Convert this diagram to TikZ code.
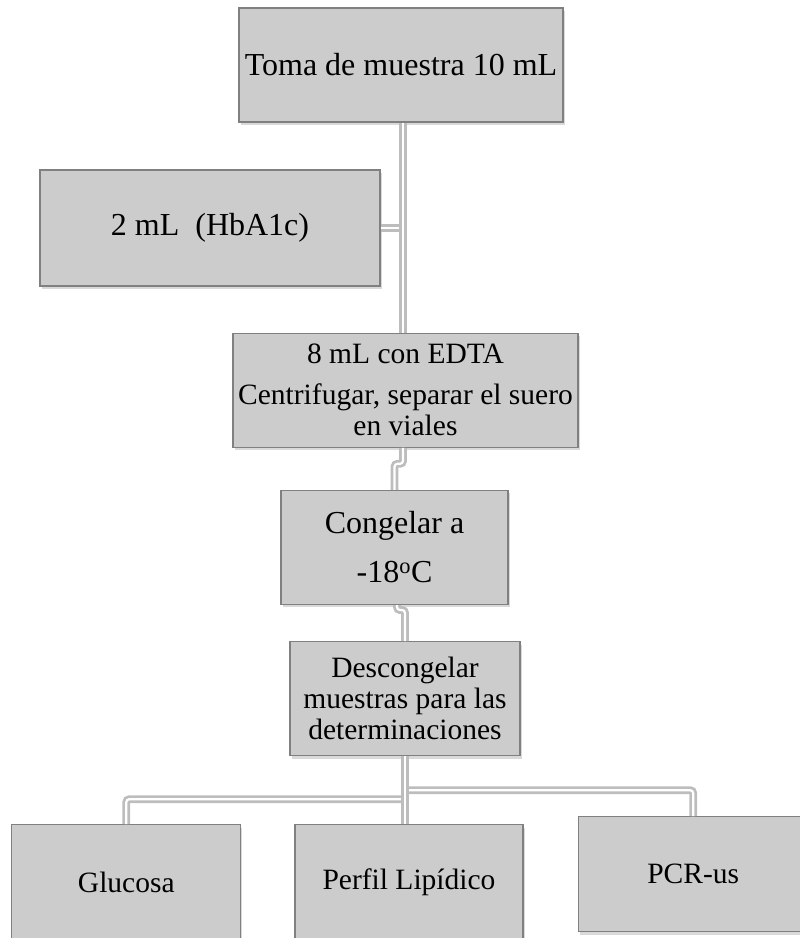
\documentclass[tikz,border=0pt]{standalone}
\usepackage{fontspec}
\setmainfont{Liberation Serif}
\usepackage{tikz}
\usetikzlibrary{positioning,shadows}
\definecolor{boxfill}{HTML}{CCCCCC}
\definecolor{boxline}{HTML}{808080}
\definecolor{pipegray}{HTML}{BDBDBD}
\newcommand{\txtbig}{\fontsize{32}{36}\selectfont}
\newcommand{\txtmid}{\fontsize{29.5}{31}\selectfont}
\tikzset{
  stage/.style = {rectangle, draw=boxline, fill=boxfill, line width=1.2pt, inner sep=2pt,
                  align=center, font=\txtmid,
                  drop shadow={opacity=0.3, shadow xshift=1.5pt, shadow yshift=-3pt}},
  pipe/.style  = {draw=pipegray, line width=2.8pt, double=white, double distance=2.2pt,
                  rounded corners=3pt},
}
\begin{document}
\begin{tikzpicture}[x=1pt, y=-1pt]
  \useasboundingbox (0,0) rectangle (800,938);
  \clip (0,0) rectangle (800,938);

  \node[stage, font=\txtbig, minimum width=324pt, minimum height=114pt] (toma) at (401,65) {Toma de muestra 10 mL};
  \node[stage, font=\txtbig, minimum width=340pt, minimum height=116pt] (hba) at (210,228) {2 mL\ \ (HbA1c)};
  \node[stage, minimum width=345pt, minimum height=114pt, below=210pt of toma, xshift=4.5pt] (edta) {8 mL con EDTA\\[10pt] Centrifugar, separar el suero\\ en viales};
  \node[stage, font=\txtbig, minimum width=227pt, minimum height=114pt, below=42pt of edta, xshift=-11pt] (cong) {Congelar a\\[13pt] -18\textsuperscript{o}C};
  \node[stage, minimum width=230pt, minimum height=114pt, below=36pt of cong, xshift=10.5pt] (desc) {Descongelar\\ muestras para las\\ determinaciones};
  \node[stage, minimum width=228pt, minimum height=115pt, below=68pt of desc, xshift=4pt] (perf) {Perfil Lipídico};
  \node[stage, minimum width=229pt, minimum height=115pt, left=53pt of perf] (glu) {Glucosa};
  \node[stage, minimum width=230pt, minimum height=115pt, right=54pt of perf, yshift=8pt] (pcr) {PCR-us};

  \coordinate (trunk) at ([xshift=2pt]toma.south);
  \draw[pipe] (hba.east) -- (hba.east -| trunk);
  \draw[pipe] (trunk) -- (trunk |- edta.north);
  \draw[pipe] ([xshift=-2.5pt]edta.south) -- ++(0,16) -| (cong.north);
  \draw[pipe] ([xshift=2.5pt]cong.south) -- ++(0,5) -| (desc.north);
  \draw[pipe] (desc.south) -- ++(0,34) -| (pcr.north);
  \draw[pipe] (desc.south) -- ++(0,43) -| (glu.north);
  \draw[pipe] (desc.south) -- (desc.south |- perf.north);
\end{tikzpicture}
\end{document}
